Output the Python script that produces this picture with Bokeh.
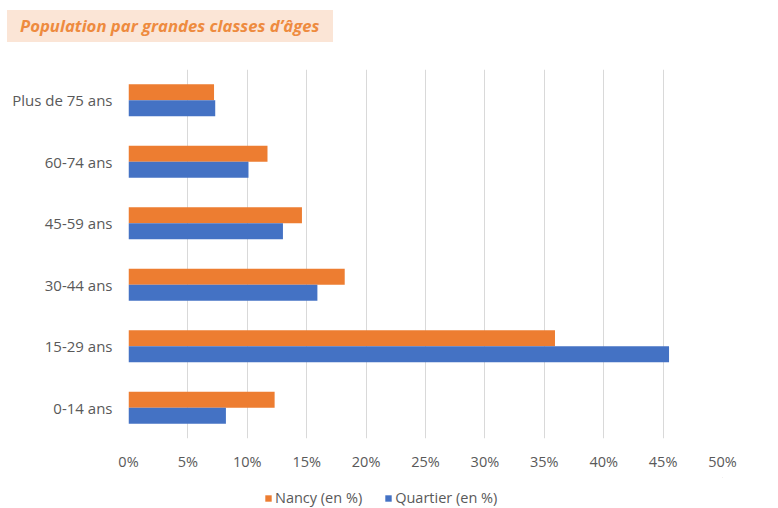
from bokeh.plotting import figure
from bokeh.models import (Div, FactorRange, Legend, LegendItem, ColumnDataSource,
                          NumeralTickFormatter, FixedTicker)
from bokeh.layouts import column
from bokeh.transform import dodge
from bokeh.embed import file_html
from bokeh.resources import INLINE

categories = ["0-14 ans", "15-29 ans", "30-44 ans", "45-59 ans", "60-74 ans", "Plus de 75 ans"]
nancy = [0.123, 0.359, 0.182, 0.146, 0.117, 0.072]
quartier = [0.082, 0.455, 0.159, 0.130, 0.101, 0.073]
series_names = ["Nancy (en %)", "Quartier (en %)"]
series_colors = ["#ED7D31", "#4472C4"]
x_ticks = [0, 0.05, 0.10, 0.15, 0.20, 0.25, 0.30, 0.35, 0.40, 0.45, 0.50]
title_text = "Population par grandes classes d\u2019\u00e2ges"

title = Div(
    text='<div style="background:#FBE5D6;width:326px;height:32px;margin-top:10px;margin-left:7px;'
         'line-height:32px;padding-left:13px;box-sizing:border-box;'
         'font-family:\'Open Sans\';font-style:italic;font-weight:bold;font-size:16.7px;'
         'color:#EE8B3F;white-space:nowrap;">' + title_text + '</div>',
    width=776, height=43, margin=(0, 0, 0, 0))

src = ColumnDataSource(dict(cat=categories, nancy=nancy, quartier=quartier))

p = figure(width=776, height=434, y_range=FactorRange(*categories), x_range=(0, 0.5),
           output_backend="svg", toolbar_location=None,
           min_border_left=128, min_border_right=54, min_border_top=26, min_border_bottom=39,
           outline_line_color=None, margin=(0, 0, 0, 0))

r1 = p.hbar(y=dodge("cat", 0.13, range=p.y_range), right="nancy", left=0, height=0.26,
            source=src, fill_color=series_colors[0], line_color=None)
r2 = p.hbar(y=dodge("cat", -0.13, range=p.y_range), right="quartier", left=0, height=0.26,
            source=src, fill_color=series_colors[1], line_color=None)

p.xaxis.ticker = FixedTicker(ticks=x_ticks)
p.xaxis.formatter = NumeralTickFormatter(format="0%")
for ax in (p.xaxis[0], p.yaxis[0]):
    ax.axis_line_color = None
    ax.major_tick_line_color = None
    ax.minor_tick_line_color = None
    ax.major_tick_out = 0
    ax.major_tick_in = 0
    ax.major_label_text_color = "#595959"
    ax.major_label_text_font = "Open Sans"
    ax.major_label_text_font_size = "14.5px"
p.yaxis.major_label_text_font_size = "15px"
p.xaxis.major_label_standoff = 13
p.yaxis.major_label_standoff = 16
p.xgrid.grid_line_color = "#D9D9D9"
p.ygrid.grid_line_color = None

# legend strip below the chart (its frame is aligned with the chart's frame)
lf = figure(width=776, height=30, x_range=(0, 1), y_range=(0, 1),
            output_backend="svg", toolbar_location=None,
            min_border_left=0, min_border_right=0, min_border_top=0, min_border_bottom=0,
            outline_line_color=None, margin=(0, 0, 0, 0))
lf.axis.visible = False
lf.grid.visible = False
items = []
for name, color in zip(series_names, series_colors):
    # swatch-only renderer, placed entirely outside the visible ranges
    rr = lf.hbar(y=[5], right=[6], left=[5], height=0.5,
                 fill_color=color, line_color=None)
    items.append(LegendItem(label=name, renderers=[rr]))
legend = Legend(items=items, orientation="horizontal", location=(136, 0),
                label_text_font="Open Sans", label_text_font_size="14.5px",
                label_text_color="#595959", glyph_width=8, glyph_height=8,
                label_height=14, label_standoff=3, spacing=22, border_line_color=None,
                background_fill_alpha=0, padding=0, margin=0)
lf.add_layout(legend)

layout = column(title, p, lf, spacing=0)
open("out.html", "w").write(file_html(layout, INLINE))
